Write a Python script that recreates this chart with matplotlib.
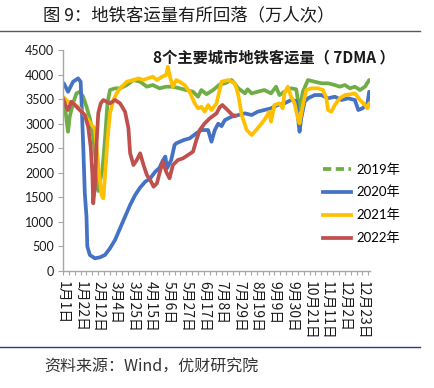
import matplotlib
matplotlib.use('Agg')
import matplotlib.pyplot as plt
from matplotlib.lines import Line2D

plt.rcParams['font.family'] = ['Lato', 'Noto Sans CJK SC', 'DejaVu Sans']

# 数据：横轴为一年中的第几天（0 = 1月1日），纵轴为客运量（万人次）
days_2019 = [1, 2, 4, 6, 8, 12, 16, 20, 24, 28, 32, 36, 39, 42, 45, 47, 50, 53, 56, 62, 68,
             76, 84, 92, 100, 107, 115, 123, 131, 139, 147, 155, 161, 165, 171, 179, 187, 193,
             201, 209, 217, 220, 225, 232, 240, 248, 254, 258, 264, 272, 278, 282, 286, 292,
             300, 308, 316, 324, 330, 336, 342, 348, 354, 360, 365]
vals_2019 = [3380, 3400, 3109, 2836, 3142, 3414, 3617, 3650, 3549, 3345, 3109, 2735, 2260, 1630,
             1900, 2056, 2667, 3414, 3685, 3720, 3720,
             3787, 3889, 3854, 3753, 3787, 3720, 3753, 3753, 3720, 3685, 3650, 3549, 3685, 3600,
             3685, 3800, 3822,
             3889, 3720, 3617, 3700, 3617, 3650, 3685, 3617, 3753, 3583, 3650, 3720, 3700, 3278,
             3650, 3889,
             3854, 3822, 3822, 3787, 3753, 3787, 3720, 3753, 3685, 3753, 3889]

days_2020 = [1, 6, 12, 18, 21, 22, 24, 26, 28, 29, 32, 38, 44, 50, 56, 62, 68, 74, 80, 86, 92,
             98, 104, 110, 115, 119, 122, 124, 129, 133, 135, 144, 151, 159, 165, 173, 177, 181,
             185, 189, 193, 201, 209, 217, 225, 232, 240, 248, 256, 264, 272, 278, 282, 284, 288,
             292, 300, 308, 316, 324, 332, 340, 348, 352, 357, 363, 365]
vals_2020 = [3822, 3650, 3854, 3922, 3854, 3482, 2600, 1582, 1105, 500, 326, 258, 278, 326, 462,
             631, 869, 1106, 1344, 1547, 1700,
             1818, 1887, 2022, 2100, 2250, 2330, 2090, 2260, 2565, 2600, 2667, 2701, 2803, 2870,
             2870, 2633, 2870,
             3000, 2950, 3074, 3142, 3176, 3210, 3176, 3243, 3278, 3312, 3380, 3414, 3482, 3460,
             2836, 3109, 3447,
             3516, 3583, 3583, 3516, 3549, 3482, 3516, 3482, 3278, 3312, 3414, 3650]

days_2021 = [0, 2, 6, 12, 18, 24, 30, 36, 38, 40, 43, 46, 48, 50, 53, 56, 60, 64, 68, 76, 84,
             90, 96, 101, 107, 112, 118, 123, 125, 128, 131, 135, 139, 145, 151, 157, 161, 165,
             169, 173, 177, 183, 189, 197, 205, 209, 213, 219, 225, 232, 240, 246, 248, 252,
             258, 262, 264, 268, 272, 276, 280, 282, 286, 290, 296, 304, 310, 314, 316, 320,
             324, 330, 336, 342, 348, 354, 360, 363, 365]
vals_2021 = [3549, 3516, 3447, 3414, 3345, 3210, 3074, 2938, 2905, 2530, 1989, 1547, 1480, 1920,
             2667, 3210, 3482, 3617, 3720, 3854, 3889,
             3922, 3889, 3922, 3956, 3889, 3956, 3990, 4159, 3922, 3753, 3889, 3854, 3787, 3650,
             3414, 3312, 3345,
             3243, 3380, 3278, 3414, 3854, 3889, 3822, 3583, 3176, 2871, 2769, 2905, 3074, 3243,
             3040, 3380,
             3414, 3312, 3617, 3753, 3549, 3414, 3109, 3007, 3380, 3685, 3720, 3720, 3685, 3516,
             3278, 3243,
             3380, 3516, 3583, 3597, 3617, 3482, 3380, 3312, 3414]

days_2022 = [0, 2, 6, 10, 14, 20, 26, 30, 33, 35, 36, 38, 40, 42, 45, 48, 52, 56, 62, 68, 74,
             78, 80, 84, 88, 92, 96, 100, 104, 108, 112, 115, 119, 123, 127, 131, 137, 143, 149,
             155, 159, 163, 169, 175, 183, 187, 190, 196, 202, 206]
vals_2022 = [3516, 3414, 3278, 3447, 3380, 3278, 3176, 2938, 2533, 1989, 1378, 1716, 2600, 3210,
             3414, 3482, 3447, 3414, 3482, 3414, 3243,
             2905, 2400, 2158, 2260, 2396, 2158, 1954, 1853, 1716, 1786, 1989, 2225, 2022, 1887,
             2158, 2260, 2294, 2362,
             2430, 2667, 2870, 3007, 3109, 3210, 3340, 3380, 3280, 3176, 3160]

series_names = ['2019年', '2020年', '2021年', '2022年']
series_colors = ['#70AD47', '#4472C4', '#FFC000', '#C0504D']

tick_days = list(range(0, 366, 21))
tick_labels = ['1月1日', '1月22日', '2月12日', '3月4日', '3月25日', '4月15日', '5月6日',
               '5月27日', '6月17日', '7月8日', '7月29日', '8月19日', '9月9日', '9月30日',
               '10月21日', '11月11日', '12月2日', '12月23日']

W, H = 434, 388
fig = plt.figure(figsize=(W / 100, H / 100), dpi=100)

# 标题、分隔线、资料来源
fig.text(43 / W, 1 - 15 / H, '图 9：地铁客运量有所回落（万人次）', fontsize=12.5,
         family=['Noto Sans CJK SC'], color='#1a1a1a', va='center', ha='left')
fig.add_artist(Line2D([0, 420 / W], [1 - 31 / H] * 2, color='#595959', lw=1))
fig.add_artist(Line2D([0, 420 / W], [1 - 347 / H] * 2, color='#2B3990', lw=1))
fig.text(44 / W, 1 - 367 / H, '资料来源：Wind，优财研究院', fontsize=11.5,
         family=['Noto Sans CJK SC'], color='#333333', va='center', ha='left')

ax = fig.add_axes([63 / W, 1 - 271 / H, 307 / W, 221 / H])

all_days = [days_2019, days_2020, days_2021, days_2022]
all_vals = [vals_2019, vals_2020, vals_2021, vals_2022]
for d, v, c in zip(all_days, all_vals, series_colors):
    ax.plot(d, v, color=c, lw=2.7, solid_joinstyle='round', solid_capstyle='round')

ax.set_xlim(0, 366)
ax.set_ylim(0, 4500)
ax.set_yticks(range(0, 4501, 500))
ax.set_xticks(tick_days)
ax.set_xticklabels(tick_labels, rotation=270, family=['Noto Sans CJK SC'], fontsize=10,
                   va='top', ha='center', color='#1a1a1a')
ax.set_xticks(range(0, 366, 7), minor=True)
ax.tick_params(axis='x', which='both', length=3, width=0.8, color='#A6A6A6', pad=4)
ax.tick_params(axis='y', length=3.5, width=0.8, color='#A6A6A6', pad=3, labelsize=9,
               labelcolor='#1a1a1a')

for s in ['top', 'right']:
    ax.spines[s].set_visible(False)
for s in ['left', 'bottom']:
    ax.spines[s].set_color('#A6A6A6')
    ax.spines[s].set_linewidth(1)

fig.text(274 / W, 1 - 57 / H, '8个主要城市地铁客运量（ 7DMA ）', fontsize=11, weight='bold',
         family=['Noto Sans CJK SC'], color='#1a1a1a', ha='center', va='center')

handles = [Line2D([], [], color=series_colors[0], lw=2.7, ls=(0, (2.2, 1.2)))]
handles += [Line2D([], [], color=c, lw=2.7) for c in series_colors[1:]]
fig.legend(handles, series_names, loc='upper left', bbox_to_anchor=(323 / W, 1 - 163 / H),
           frameon=False, handlelength=2.1, handletextpad=0.4,
           labelspacing=0.78, borderpad=0, borderaxespad=0,
           prop={'family': ['Lato', 'Noto Sans CJK SC'], 'size': 9.5})

fig.savefig('out.png', dpi=100)
